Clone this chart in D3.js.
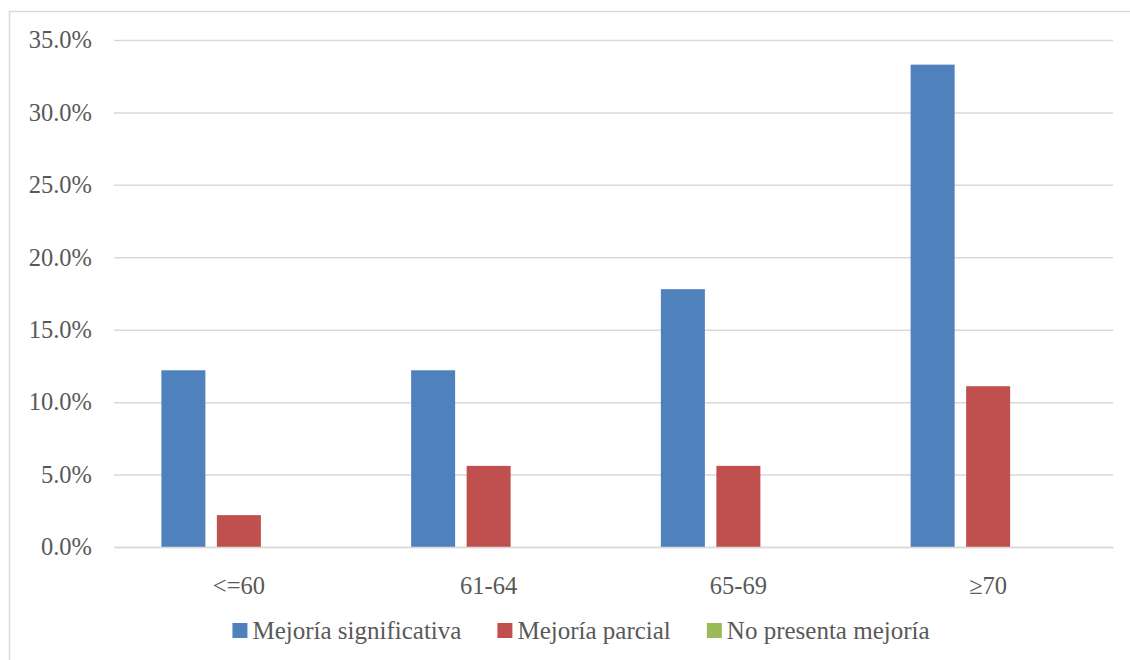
<!DOCTYPE html>
<html>
<head>
<meta charset="utf-8">
<script src="https://cdn.jsdelivr.net/npm/d3@7"></script>
<style>
  html, body { margin: 0; padding: 0; background: #ffffff; }
  svg { display: block; }
  text { font-family: "Liberation Serif", "DejaVu Serif", serif; fill: #595959; }
</style>
</head>
<body>
<svg id="chart" width="1130" height="660"></svg>
<script>
// Age groups
const categories = ["<=60", "61-64", "65-69", "\u226570"];
// Series names and colours
const seriesNames = ["Mejoría significativa", "Mejoría parcial", "No presenta mejoría"];
const seriesColors = ["#4f81bd", "#c0504d", "#9bbb59"];
// Share of patients per age group (fraction)
const mejoriaSignificativa = [0.122, 0.122, 0.178, 0.333];
const mejoriaParcial = [0.022, 0.056, 0.056, 0.111];
const noPresentaMejoria = [0, 0, 0, 0];
// Y axis ticks
const yTicks = [0, 0.05, 0.10, 0.15, 0.20, 0.25, 0.30, 0.35];

const seriesValues = [mejoriaSignificativa, mejoriaParcial, noPresentaMejoria];
const rows = categories.map((c, i) => ({
  category: c,
  values: seriesNames.map((s, j) => ({ series: s, value: seriesValues[j][i], color: seriesColors[j] }))
}));

const svg = d3.select("#chart");
const plotLeft = 114, plotRight = 1113, plotTop = 40, plotBottom = 547;

// outer chart frame
svg.append("rect")
  .attr("x", 9.5).attr("y", 11.5)
  .attr("width", 1140).attr("height", 670)
  .attr("fill", "none").attr("stroke", "#d9d9d9").attr("stroke-width", 1.5);

const y = d3.scaleLinear().domain([0, 0.35]).range([plotBottom, plotTop]);
const x0 = d3.scaleBand().domain(categories).range([plotLeft, plotRight]);
const groupWidth = 155;
const x1 = d3.scaleBand().domain(seriesNames).range([0, groupWidth]).paddingInner(0.207);

// gridlines and y labels
const yAxis = d3.axisLeft(y).tickValues(yTicks).tickFormat(d3.format(".1%"))
  .tickSize(-(plotRight - plotLeft)).tickPadding(22);
const gy = svg.append("g").attr("transform", `translate(${plotLeft},0)`).call(yAxis);
gy.select(".domain").remove();
gy.selectAll(".tick line").attr("stroke", "#d9d9d9").attr("stroke-width", 1.5);
gy.selectAll(".tick text")
  .attr("font-size", 24.5).attr("fill", "#595959")
  .attr("font-family", "Liberation Serif, serif")
  .attr("dy", "0.32em");

// bars
const groups = svg.append("g").selectAll("g").data(rows).join("g")
  .attr("transform", d => `translate(${x0(d.category) + (x0.bandwidth() - groupWidth) / 2},0)`);
groups.selectAll("rect").data(d => d.values).join("rect")
  .attr("x", d => x1(d.series))
  .attr("y", d => y(d.value))
  .attr("width", x1.bandwidth())
  .attr("height", d => y(0) - y(d.value))
  .attr("fill", d => d.color);

// category axis
const xAxis = d3.axisBottom(x0).tickSize(0).tickPadding(30);
const gx = svg.append("g").attr("transform", `translate(0,${plotBottom})`).call(xAxis);
gx.select(".domain").attr("stroke", "#d9d9d9").attr("stroke-width", 1.5);
gx.selectAll(".tick text")
  .attr("font-size", 24.5).attr("fill", "#595959")
  .attr("font-family", "Liberation Serif, serif");

// legend
const legend = svg.append("g");
const items = legend.selectAll("g").data(seriesNames).join("g");
items.append("rect").attr("width", 15).attr("height", 15)
  .attr("y", 623).attr("fill", (d, i) => seriesColors[i]);
items.append("text").attr("x", 20).attr("y", 639)
  .attr("font-size", 25).text(d => d);
const gap = 36;
let widths = [];
items.each(function () { widths.push(this.getBBox().width); });
const total = d3.sum(widths) + gap * (widths.length - 1);
let cx = 581 - total / 2;
items.each(function (d, i) {
  d3.select(this).attr("transform", `translate(${cx},0)`);
  cx += widths[i] + gap;
});
</script>
</body>
</html>
